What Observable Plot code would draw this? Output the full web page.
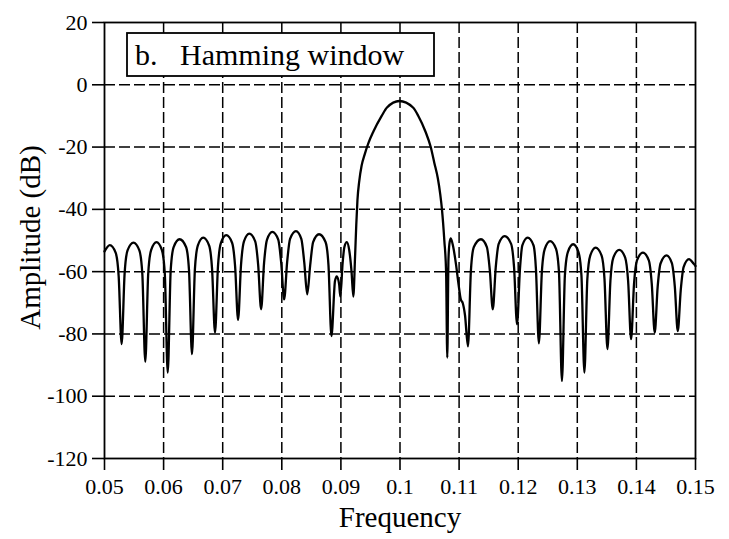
<!DOCTYPE html>
<html>
<head>
<meta charset="utf-8">
<script src="https://cdn.jsdelivr.net/npm/d3@7"></script>
<script src="https://cdn.jsdelivr.net/npm/@observablehq/plot@0.6"></script>
<style>
  html, body { margin: 0; padding: 0; background: #fff; }
  #chart svg { display: block; }
</style>
</head>
<body>
<div id="chart"></div>
<script>
// Frequency response of a Hamming-windowed tone: [frequency, amplitude in dB]
const response = [
  // low-frequency side lobes
  [0.0500, -53.5], [0.0509, -51.5], [0.0519, -54.0], [0.0524, -61.5], [0.0529, -83.3],
  [0.0534, -60.7], [0.0539, -53.2], [0.0549, -50.7], [0.0559, -53.2], [0.0564, -60.7], [0.0569, -88.9],
  [0.0574, -60.5], [0.0579, -53.0], [0.0588, -50.5], [0.0597, -53.0], [0.0602, -60.5], [0.0607, -92.4],
  [0.0612, -59.6], [0.0617, -52.1], [0.0627, -49.6], [0.0638, -52.1], [0.0643, -59.6], [0.0648, -86.5],
  [0.0653, -59.1], [0.0658, -51.6], [0.0667, -49.1], [0.0677, -51.6], [0.0682, -59.1], [0.0687, -79.6],
  [0.0692, -58.3], [0.0697, -50.8], [0.0706, -48.3], [0.0716, -50.8], [0.0721, -58.3], [0.0726, -75.5],
  [0.0731, -57.8], [0.0736, -50.3], [0.0745, -47.8], [0.0755, -50.3], [0.0760, -57.8], [0.0765, -72.1],
  [0.0770, -57.2], [0.0775, -49.7], [0.0784, -47.2], [0.0794, -49.7], [0.0799, -57.2], [0.0804, -68.9],
  [0.0809, -57.0], [0.0814, -49.5], [0.0824, -47.0], [0.0833, -49.5], [0.0838, -57.0], [0.0843, -67.3],
  [0.0848, -58.0], [0.0853, -50.5], [0.0863, -48.0], [0.0874, -50.5], [0.0879, -58.0], [0.0884, -80.7],
  [0.0890, -63.0], [0.0893, -61.5], [0.0897, -64.0], [0.0899, -68.0],
  [0.0903, -57.0], [0.0906, -52.0], [0.0910, -50.5], [0.0914, -53.0], [0.0918, -60.0], [0.0921, -68.0],
  // main lobe
  [0.0924, -55.0], [0.0926, -45.0], [0.0928, -37.0], [0.0931, -31.0],
  [0.0935, -26.0], [0.0940, -22.5], [0.0947, -18.5], [0.0955, -15.0], [0.0969, -10.0],
  [0.0978, -7.3], [0.0999, -5.2], [0.1022, -7.3], [0.1031, -10.0],
  [0.1043, -15.0], [0.1052, -20.0], [0.1058, -25.0], [0.1064, -30.0],
  [0.1068, -35.0], [0.1071, -40.0], [0.1075, -50.0], [0.1078, -60.0],
  [0.1080, -87.6],
  // high-frequency side lobes
  [0.1082, -56.0], [0.1084, -50.5], [0.1086, -49.3], [0.1090, -52.0], [0.1095, -58.0],
  [0.1099, -64.0], [0.1103, -69.0], [0.1106, -70.0], [0.1110, -74.0], [0.1115, -84.0],
  [0.1120, -59.6], [0.1125, -52.1], [0.1137, -49.6], [0.1147, -52.1], [0.1152, -59.6], [0.1157, -72.1],
  [0.1162, -58.6], [0.1167, -51.1], [0.1177, -48.6], [0.1188, -51.1], [0.1193, -58.6], [0.1198, -76.9],
  [0.1203, -59.1], [0.1207, -51.6], [0.1216, -49.1], [0.1226, -51.6], [0.1230, -59.1], [0.1235, -83.0],
  [0.1240, -60.2], [0.1245, -52.7], [0.1254, -50.2], [0.1264, -52.7], [0.1269, -60.2], [0.1274, -95.1],
  [0.1279, -61.2], [0.1284, -53.7], [0.1293, -51.2], [0.1302, -53.7], [0.1307, -61.2], [0.1312, -92.4],
  [0.1317, -62.3], [0.1322, -54.8], [0.1331, -52.3], [0.1341, -54.8], [0.1346, -62.3], [0.1351, -84.9],
  [0.1356, -63.0], [0.1361, -55.5], [0.1371, -53.0], [0.1381, -55.5], [0.1386, -63.0], [0.1391, -81.7],
  [0.1396, -63.9], [0.1401, -56.4], [0.1411, -53.9], [0.1421, -56.4], [0.1426, -63.9], [0.1431, -79.6],
  [0.1436, -64.8], [0.1441, -57.3], [0.1451, -54.8], [0.1460, -57.3], [0.1465, -64.8], [0.1470, -79.1],
  [0.1475, -66.0], [0.1480, -58.5], [0.1489, -56.0], [0.1497, -57.5], [0.1500, -58.2]
];

const xTicks = [0.05, 0.06, 0.07, 0.08, 0.09, 0.1, 0.11, 0.12, 0.13, 0.14, 0.15];
const yTicks = [20, 0, -20, -40, -60, -80, -100, -120];
const xLabel = "Frequency";
const yLabel = "Amplitude (dB)";
const panelTitle = "b.\u00a0\u00a0 Hamming window";

const serif = "'Liberation Serif', 'Times New Roman', Times, serif";
const W = 729, H = 539;
const mL = 104, mR = 34, mT = 22, mB = 81;

// dashed grid only at the interior ticks; the frame supplies the outer edges
const xGrid = xTicks.slice(1, -1);
const yGrid = yTicks.slice(1, -1);
const dash = { stroke: "black", strokeWidth: 1.5, strokeDasharray: "11,4" };

const chart = Plot.plot({
  width: W,
  height: H,
  marginLeft: mL,
  marginRight: mR,
  marginTop: mT,
  marginBottom: mB,
  style: { fontFamily: serif, fontSize: "22px", color: "black", background: "white", overflow: "visible" },
  x: { domain: [0.05, 0.15] },
  y: { domain: [-120, 20] },
  marks: [
    Plot.ruleX(xGrid, dash),
    Plot.ruleY(yGrid, dash),
    Plot.line(response, {
      x: d => d[0],
      y: d => d[1],
      curve: "monotone-x",
      stroke: "black",
      strokeWidth: 2.3
    }),
    Plot.frame({ stroke: "black", strokeWidth: 1.8 }),
    Plot.axisX({
      ticks: xTicks,
      tickFormat: d => String(d),
      tickSize: 12,
      tickPadding: 8,
      strokeWidth: 1.6,
      fontSize: 22,
      label: null
    }),
    Plot.axisY({
      ticks: yTicks,
      tickFormat: d => String(d),
      tickSize: 12,
      tickPadding: 5,
      strokeWidth: 1.6,
      fontSize: 22,
      label: null
    }),
    Plot.text([xLabel], {
      text: d => d,
      frameAnchor: "bottom",
      textAnchor: "middle",
      lineAnchor: "top",
      dy: 48,
      fontSize: 29,
      fill: "black"
    }),
    Plot.text([yLabel], {
      text: d => d,
      frameAnchor: "left",
      textAnchor: "middle",
      lineAnchor: "middle",
      rotate: -90,
      dx: -74,
      dy: -3,
      fontSize: 29,
      fill: "black"
    })
  ]
});

document.getElementById("chart").appendChild(chart);

// panel label in a white box at the top-left of the frame
const label = d3.select(chart).append("g");
label.append("rect")
  .attr("x", mL + 23)
  .attr("y", mT + 11)
  .attr("width", 307)
  .attr("height", 43)
  .attr("fill", "white")
  .attr("stroke", "black")
  .attr("stroke-width", 1.8);
label.append("text")
  .attr("x", mL + 31)
  .attr("y", mT + 43)
  .attr("text-anchor", "start")
  .attr("font-family", serif)
  .attr("font-size", 30)
  .attr("fill", "black")
  .text(panelTitle);
</script>
</body>
</html>
